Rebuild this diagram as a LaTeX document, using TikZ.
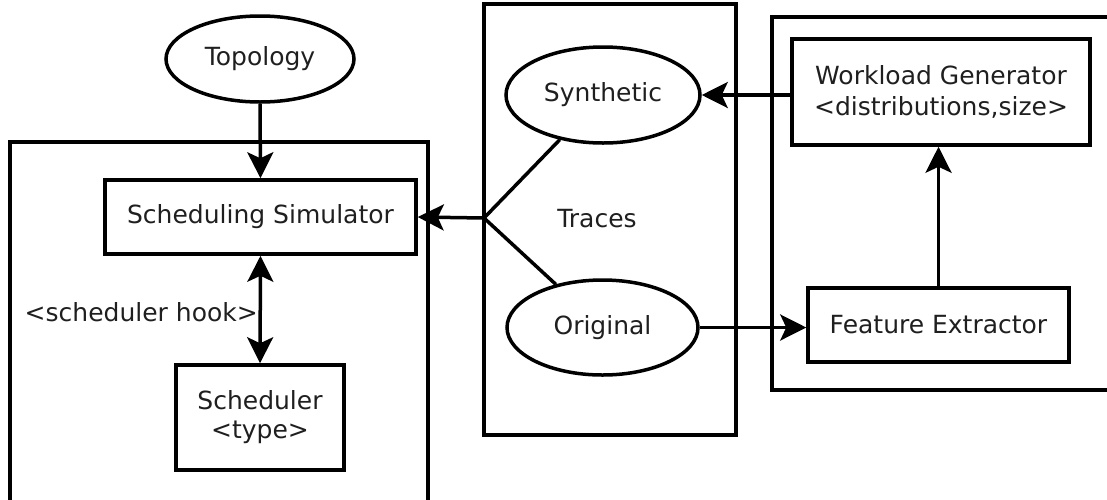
\documentclass[tikz,border=0pt]{standalone}
\usepackage{fontspec}
\setmainfont{DejaVu Sans}
\usetikzlibrary{shapes.geometric,arrows.meta}
\begin{document}
\begin{tikzpicture}[x=1pt,y=-1pt,
  every node/.style={font=\fontsize{25}{30}\selectfont, inner sep=0pt, text=black!88},
  box/.style={draw=black, line width=3.5pt, rectangle, align=center},
  oval/.style={draw=black, line width=3.5pt, ellipse},
  frame/.style={draw, line width=3.5pt},
  conn/.style={line width=3.5pt},
  arr/.style={conn, -{Stealth[length=26pt,width=26pt,inset=6pt]}},
  darr/.style={conn, {Stealth[length=26pt,width=26pt,inset=6pt]}-{Stealth[length=26pt,width=26pt,inset=6pt]}}]
\clip (0,0) rectangle (1107,499);
\useasboundingbox (0,0) rectangle (1107,499);
% containers
\draw[frame] (10,142) rectangle (428,520);
\draw[frame] (484,4) rectangle (736,435);
\draw[frame] (772,17) rectangle (1130,390);
% nodes
\node[oval, minimum width=188pt, minimum height=86pt] (topo) at (260,59) {Topology};
\node[box, minimum width=311pt, minimum height=74pt] (sim) at (260.5,217) {Scheduling Simulator};
\node[box, minimum width=168pt, minimum height=105pt] (sched) at (260,417.5) {Scheduler\\[-1pt]<type>};
\node[anchor=east] (hook) at (258,312) {<scheduler hook>};
\node[oval, minimum width=194pt, minimum height=96pt] (synth) at (603,95) {Synthetic};
\node[oval, minimum width=191pt, minimum height=95pt] (orig) at (602.5,327.5) {Original};
\node (traces) at (597,219) {Traces};
\coordinate (j) at (484,218);
\node[box, minimum width=298pt, minimum height=106pt] (wg) at (941,92) {Workload Generator\\[1pt]<distributions,size>};
\node[box, minimum width=261pt, minimum height=74pt] (fe) at (938.5,325) {Feature Extractor};
% connectors
\draw[arr] (topo.south) -- (sim.north);
\draw[darr] (sim.south) -- (sched.north);
\draw[conn] (j) -- (synth);
\draw[conn] (j) -- (orig);
\draw[arr] (j) -- (sim.east);
\draw[arr] (wg.west |- synth.east) -- (synth.east);
\draw[arr] (orig.east) -- (orig.east -| fe.west);
\draw[arr] (fe.north) -- (fe.north |- wg.south);
\end{tikzpicture}
\end{document}
